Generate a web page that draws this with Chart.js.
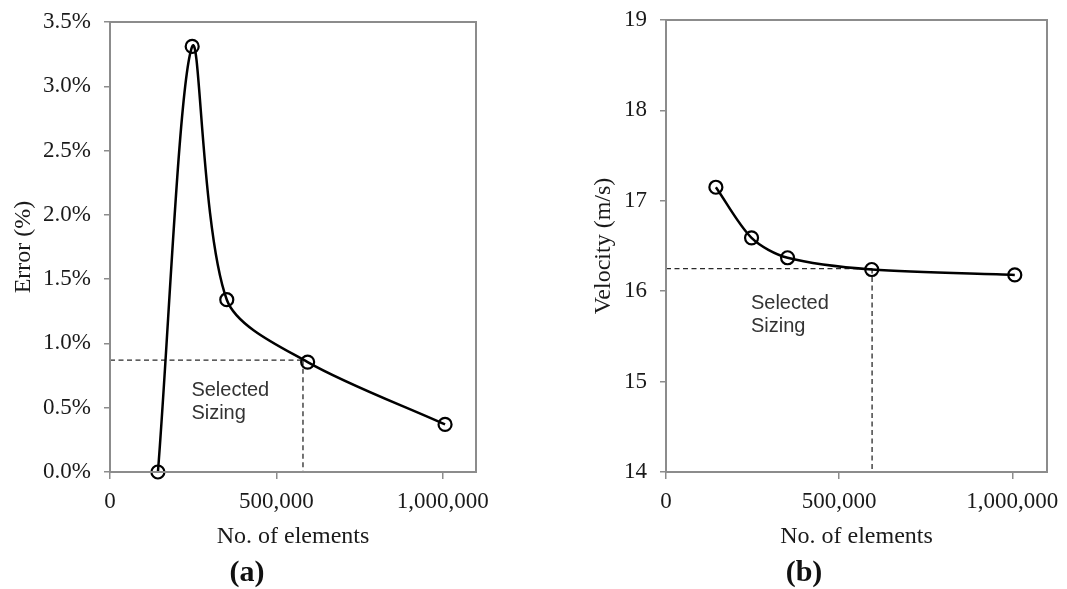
<!DOCTYPE html>
<html>
<head>
<meta charset="utf-8">
<script src="https://cdn.jsdelivr.net/npm/chart.js@4/dist/chart.umd.min.js"></script>
<style>
    body { margin: 0; background: #fff; }
    #wrap { position: relative; width: 1067px; height: 589px; }
    .pane { position: absolute; top: 0; height: 589px; }
    .cap { position: absolute; top: 554px; width: 80px; text-align: center;
           font: bold 30px "Liberation Serif", serif; color: #111; }
</style>
</head>
<body>
<div id="wrap">
    <div class="pane" style="left:0;width:533px"><canvas id="errorChart" width="533" height="589"></canvas></div>
    <div class="pane" style="left:533px;width:534px"><canvas id="velocityChart" width="534" height="589"></canvas></div>
    <div class="cap" style="left:207px">(a)</div>
    <div class="cap" style="left:764px">(b)</div>
</div>
<script>
// values
const elements = [144000, 247000, 351000, 594000, 1007000];
const errorPct = [0.0, 3.31, 1.34, 0.855, 0.37];
const velocity = [17.15, 16.59, 16.37, 16.24, 16.18];
const xTicks = [0, 500000, 1000000];
const errorTicks = [0, 0.5, 1.0, 1.5, 2.0, 2.5, 3.0, 3.5];
const velocityTicks = [14, 15, 16, 17, 18, 19];
const selectedError = { x: 580000, y: 0.87 };
const selectedVelocity = { x: 595000, y: 16.25 };
const noteLines = ["Selected", "Sizing"];

const serif = "'Liberation Serif', 'Times New Roman', serif";
const axisGray = "#8c8c8c";

// box around plot, dashed guide lines and the note
function guidePlugin(sel, noteAt) {
    return {
        id: "guides",
        beforeDatasetsDraw(chart) {
            const { ctx, chartArea, scales } = chart;
            const px = scales.x.getPixelForValue(sel.x);
            const py = scales.y.getPixelForValue(sel.y);
            ctx.save();
            ctx.strokeStyle = "#2a2a2a";
            ctx.lineWidth = 1.3;
            ctx.setLineDash([5, 3.5]);
            ctx.beginPath();
            ctx.moveTo(chartArea.left, py);
            ctx.lineTo(px, py);
            ctx.moveTo(px, py);
            ctx.lineTo(px, chartArea.bottom);
            ctx.stroke();
            ctx.setLineDash([]);

            ctx.fillStyle = "#333";
            ctx.font = "20px 'Liberation Sans', Arial, sans-serif";
            ctx.textBaseline = "alphabetic";
            const tx = scales.x.getPixelForValue(noteAt.x);
            const ty = scales.y.getPixelForValue(noteAt.y);
            noteLines.forEach((line, i) => ctx.fillText(line, tx, ty + i * 23));
            ctx.restore();
        },
        afterDraw(chart) {
            const { ctx, chartArea } = chart;
            ctx.save();
            ctx.strokeStyle = axisGray;
            ctx.lineWidth = 2;
            ctx.strokeRect(chartArea.left, chartArea.top,
                chartArea.right - chartArea.left, chartArea.bottom - chartArea.top);
            ctx.restore();
        }
    };
}

function makeChart(id, values, yTicks, yTitle, fmt, sel, noteAt, pad, yWidth) {
    const ctx = document.getElementById(id).getContext("2d");
    return new Chart(ctx, {
        type: "line",
        data: {
            datasets: [{
                data: elements.map((x, i) => ({ x: x, y: values[i] })),
                borderColor: "#000",
                borderWidth: 2.5,
                tension: 0.3,
                pointStyle: "circle",
                pointRadius: 6.5,
                pointBorderWidth: 2.2,
                pointBorderColor: "#000",
                pointBackgroundColor: "rgba(255,255,255,0)",
                clip: false
            }]
        },
        options: {
            responsive: false,
            animation: false,
            events: [],
            layout: { padding: pad },
            plugins: { legend: { display: false }, tooltip: { enabled: false } },
            scales: {
                x: {
                    type: "linear",
                    min: 0,
                    max: 1100000,
                    afterFit: s => { s.height = 79; s.paddingLeft = 0; s.paddingRight = 0; },
                    afterBuildTicks: s => { s.ticks = xTicks.map(v => ({ value: v })); },
                    border: { display: false },
                    grid: { drawOnChartArea: false, drawTicks: true, tickLength: 7, color: axisGray, lineWidth: 1.5 },
                    ticks: {
                        includeBounds: false,
                        maxRotation: 0,
                        padding: 9,
                        color: "#1a1a1a",
                        font: { family: serif, size: 23 },
                        callback: v => v.toLocaleString("en-US")
                    },
                    title: {
                        display: true,
                        text: "No. of elements",
                        color: "#1a1a1a",
                        padding: 0,
                        font: { family: serif, size: 24 }
                    }
                },
                y: {
                    min: yTicks[0],
                    max: yTicks[yTicks.length - 1],
                    afterFit: s => { s.width = yWidth; s.paddingTop = 0; s.paddingBottom = 0; },
                    afterBuildTicks: s => { s.ticks = yTicks.map(v => ({ value: v })); },
                    border: { display: false },
                    grid: { drawOnChartArea: false, drawTicks: true, tickLength: 6, color: axisGray, lineWidth: 1.5 },
                    ticks: {
                        padding: 13,
                        color: "#1a1a1a",
                        font: { family: serif, size: 23 },
                        callback: fmt
                    },
                    title: {
                        display: true,
                        text: yTitle,
                        color: "#1a1a1a",
                        padding: 0,
                        font: { family: serif, size: 24 }
                    }
                }
            }
        },
        plugins: [guidePlugin(sel, noteAt)]
    });
}

makeChart("errorChart", errorPct, errorTicks, "Error (%)", v => v.toFixed(1) + "%",
    selectedError, { x: 244600, y: 0.59 },
    { left: 9, top: 22, right: 57, bottom: 38 }, 101);

makeChart("velocityChart", velocity, velocityTicks, "Velocity (m/s)", v => String(v),
    selectedVelocity, { x: 245200, y: 15.80 },
    { left: 56, top: 20, right: 20, bottom: 38 }, 77);
</script>
</body>
</html>
